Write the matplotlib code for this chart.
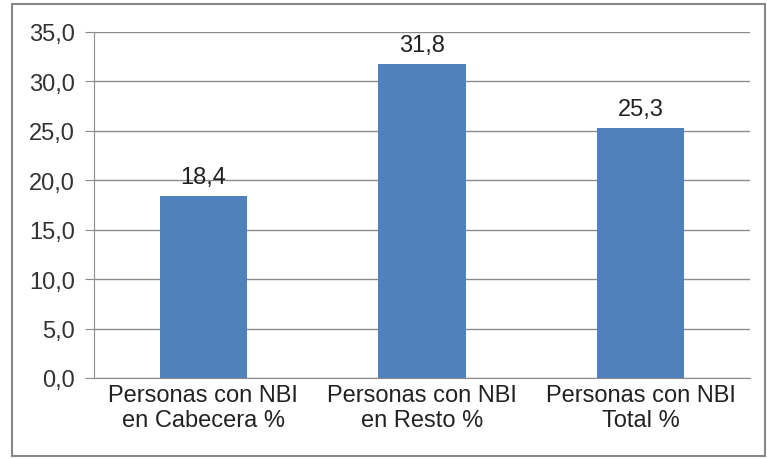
import matplotlib
matplotlib.use("Agg")
import matplotlib.pyplot as plt
from matplotlib.patches import Rectangle

categories = ["Personas con NBI\nen Cabecera %", "Personas con NBI\nen Resto %", "Personas con NBI\nTotal %"]
values = [18.4, 31.8, 25.3]
yticks = [0, 5, 10, 15, 20, 25, 30, 35]

plt.rcParams['font.family'] = ['Liberation Sans', 'DejaVu Sans']

fig = plt.figure(figsize=(7.67, 4.6), dpi=100)
ax = fig.add_axes([94/767, 1-379/460, (750-94)/767, (379-33)/460])

x = list(range(len(categories)))
bars = ax.bar(x, values, width=0.4, color="#4f81bd", zorder=3)
for xi, v in zip(x, values):
    ax.text(xi, v + 0.8, f"{v:.1f}".replace(".", ","), ha="center", va="bottom",
            fontsize=17, color="#222222")

ax.set_xlim(-0.5, 2.5)
ax.set_ylim(0, 35)
ax.set_yticks(yticks)
ax.set_yticklabels([f"{t:.1f}".replace(".", ",") for t in yticks], fontsize=17, color="#333333")
ax.set_xticks(x)
ax.set_xticklabels(categories, fontsize=17, color="#222222", linespacing=1.2)
ax.tick_params(axis="x", length=0, pad=4)
ax.tick_params(axis="y", length=6.5, color="#888888", pad=7)
ax.yaxis.grid(True, color="#8c8c8c", linewidth=1.0, zorder=0)
for s in ["top", "right"]:
    ax.spines[s].set_visible(False)
ax.spines["left"].set_color("#8c8c8c")
ax.spines["bottom"].set_color("#8c8c8c")

fig.patches.append(Rectangle((12/767, 3/460), (765-12)/767, (455-3)/460,
                             transform=fig.transFigure, fill=False,
                             edgecolor="#888888", linewidth=1.5))

fig.savefig("out.png", dpi=100)
